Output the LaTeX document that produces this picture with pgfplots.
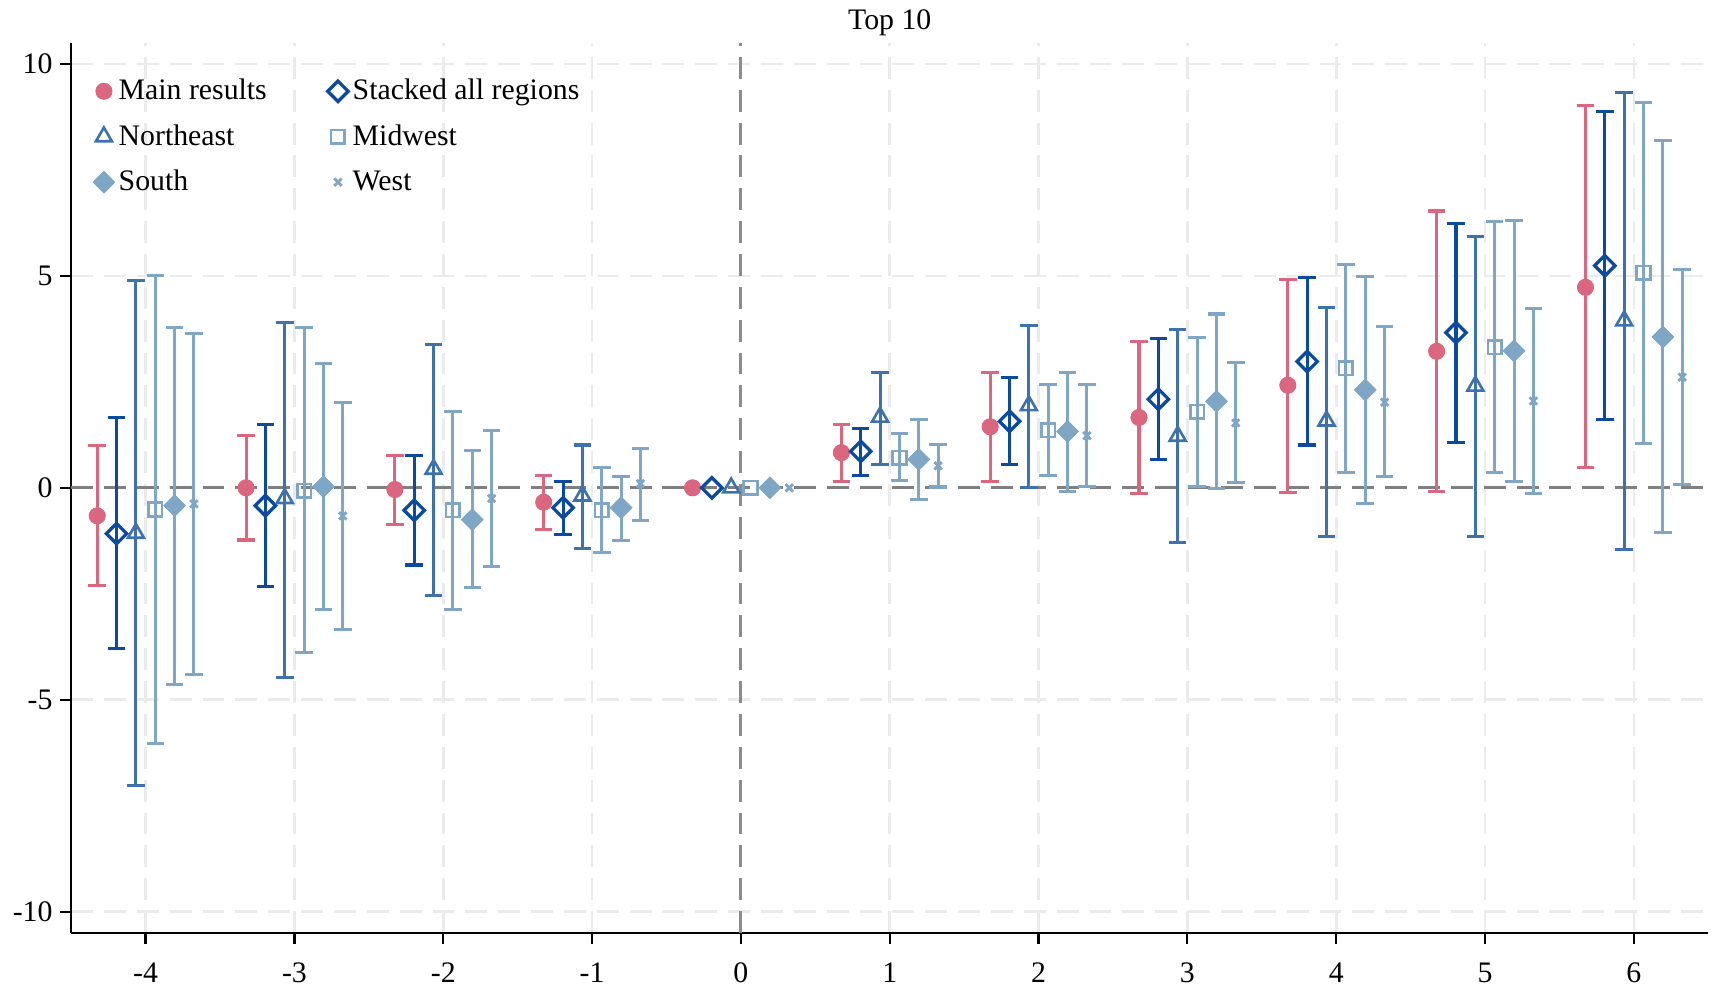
\documentclass[border=0pt]{standalone}
\usepackage{pgfplots}
\pgfplotsset{compat=1.18}
\usepackage{pgfplotstable}
\usepackage{fontspec}
\setmainfont{Liberation Serif}
\definecolor{mainc}{HTML}{DA6680}
\definecolor{stackc}{HTML}{0B4A9E}
\definecolor{nec}{HTML}{3D72AC}
\definecolor{lightc}{HTML}{7FA6C5}
\definecolor{gridc}{HTML}{EBEBEB}
\definecolor{zeroc}{HTML}{7F7F7F}

\pgfplotstableread{
x y lo hi
-4 -0.66 -2.31 1.00
-3 0.00 -1.23 1.23
-2 -0.04 -0.86 0.77
-1 -0.34 -0.98 0.30
1 0.83 0.15 1.50
2 1.44 0.15 2.73
3 1.66 -0.14 3.45
4 2.42 -0.10 4.92
5 3.22 -0.08 6.53
6 4.73 0.47 9.01
}\mainres
\pgfplotstableread{
x y lo hi
-4 -1.08 -3.79 1.65
-3 -0.42 -2.33 1.50
-2 -0.53 -1.82 0.76
-1 -0.47 -1.10 0.14
1 0.86 0.29 1.40
2 1.57 0.54 2.60
3 2.09 0.67 3.53
4 2.98 1.01 4.97
5 3.66 1.08 6.23
6 5.24 1.61 8.87
}\stacked
\pgfplotstableread{
x y lo hi
-4 -1.07 -7.02 4.88
-3 -0.25 -4.48 3.91
-2 0.44 -2.54 3.37
-1 -0.19 -1.44 1.01
1 1.67 0.54 2.72
2 1.94 0.00 3.83
3 1.22 -1.29 3.73
4 1.58 -1.15 4.26
5 2.40 -1.15 5.92
6 3.94 -1.46 9.32
}\northeast
\pgfplotstableread{
x y lo hi
-4 -0.51 -6.03 5.00
-3 -0.07 -3.89 3.78
-2 -0.53 -2.86 1.81
-1 -0.53 -1.53 0.47
1 0.71 0.17 1.28
2 1.36 0.29 2.43
3 1.79 0.03 3.54
4 2.82 0.36 5.27
5 3.32 0.37 6.29
6 5.07 1.04 9.09
}\midwest
\pgfplotstableread{
x y lo hi
-4 -0.42 -4.63 3.79
-3 0.03 -2.87 2.93
-2 -0.75 -2.35 0.88
-1 -0.47 -1.24 0.26
1 0.67 -0.28 1.62
2 1.33 -0.09 2.72
3 2.04 -0.02 4.10
4 2.31 -0.36 4.99
5 3.23 0.15 6.31
6 3.56 -1.06 8.19
}\south
\pgfplotstableread{
x y lo hi
-4 -0.38 -4.40 3.63
-3 -0.66 -3.35 2.01
-2 -0.25 -1.85 1.35
-1 0.10 -0.76 0.93
1 0.52 0.02 1.02
2 1.23 0.04 2.44
3 1.53 0.12 2.95
4 2.02 0.26 3.80
5 2.05 -0.14 4.24
6 2.61 0.08 5.14
}\west
\pgfplotstableread{
x y
0 0
}\zeropt

\pgfplotsset{
  eb/.style={
    only marks,
    error bars/y dir=both,
    error bars/y explicit,
    error bars/error bar style={line width=1.4pt, color=#1, solid},
    error bars/error mark options={rotate=90, mark size=4pt, line width=1.4pt, color=#1, solid},
  },
}
\newcommand{\fs}{\fontsize{13.6}{16}\selectfont}

\begin{document}
\begin{tikzpicture}
\begin{axis}[
  scale only axis,
  width=747.5pt, height=406.5pt,
  xmin=-4.5, xmax=6.5, ymin=-10.5, ymax=10.5,
  xtick={-4,-3,...,6}, ytick={-10,-5,0,5,10},
  axis x line*=bottom, axis y line*=left,
  axis line style={-, line width=1pt, black},
  tick align=outside, major tick length=5pt,
  tick style={black, line width=1pt},
  grid=major,
  major grid style={color=gridc, line width=1.2pt, dash pattern=on 10pt off 5pt},
  /pgf/number format/assume math mode=true,
  tick label style={font=\fs},
  xticklabel style={yshift=-5pt},
  title={Top 10},
  title style={font=\fs, at={(0.5,1)}, anchor=base, yshift=0pt},
  legend columns=2,
  legend cell align=left,
  legend image code/.code={\path[draw=none, fill=none, use as bounding box] (-5.5pt,-5pt) rectangle (5.5pt,5pt); \draw[#1] plot[only marks] coordinates {(0pt,0pt)};},
  legend style={draw=none, fill=none, font=\fs, inner sep=0pt,
    at={(0,1)}, anchor=north west, xshift=9.25pt, yshift=-11.6pt,
    nodes={inner sep=1.25pt, minimum height=20.75pt},
    /tikz/every even column/.append style={column sep=25.75pt}},
  clip=false,
]
\coordinate (O) at (rel axis cs:0,0);
\addplot[forget plot, color=zeroc, line width=1.5pt, dash pattern=on 10pt off 5pt] coordinates {(-4.5,0) (6.5,0)};
\addplot[forget plot, color=zeroc!90, line width=1.4pt, dash pattern=on 10pt off 5pt] coordinates {(0,-10.5) (0,10.5)};

\addplot[eb=mainc, color=mainc, mark=*, mark size=3.7pt]
  table[x expr=\thisrow{x}-0.325, y=y, y error plus expr=\thisrow{hi}-\thisrow{y}, y error minus expr=\thisrow{y}-\thisrow{lo}] {\mainres};
\addlegendentry{Main results}
\addplot[eb=stackc, color=stackc, mark=square, mark size=3.3pt, mark options={rotate=45, line width=1.5pt, solid}]
  table[x expr=\thisrow{x}-0.195, y=y, y error plus expr=\thisrow{hi}-\thisrow{y}, y error minus expr=\thisrow{y}-\thisrow{lo}] {\stacked};
\addlegendentry{Stacked all regions}
\addplot[eb=nec, color=nec, mark=triangle, mark size=4.2pt, mark options={line width=1.2pt, solid}]
  table[x expr=\thisrow{x}-0.065, y=y, y error plus expr=\thisrow{hi}-\thisrow{y}, y error minus expr=\thisrow{y}-\thisrow{lo}] {\northeast};
\addlegendentry{Northeast}
\addplot[eb=lightc, color=lightc, mark=square, mark size=3.1pt, mark options={line width=1.2pt, solid}]
  table[x expr=\thisrow{x}+0.065, y=y, y error plus expr=\thisrow{hi}-\thisrow{y}, y error minus expr=\thisrow{y}-\thisrow{lo}] {\midwest};
\addlegendentry{Midwest}
\addplot[eb=lightc, color=lightc, mark=square*, mark size=3.5pt, mark options={rotate=45, solid}]
  table[x expr=\thisrow{x}+0.195, y=y, y error plus expr=\thisrow{hi}-\thisrow{y}, y error minus expr=\thisrow{y}-\thisrow{lo}] {\south};
\addlegendentry{South}
\addplot[eb=lightc, color=lightc, mark=x, mark size=2.4pt, mark options={line width=1.3pt, solid}]
  table[x expr=\thisrow{x}+0.325, y=y, y error plus expr=\thisrow{hi}-\thisrow{y}, y error minus expr=\thisrow{y}-\thisrow{lo}] {\west};
\addlegendentry{West}

\addplot[forget plot, only marks, color=mainc, mark=*, mark size=3.7pt] table[x expr=\thisrow{x}-0.325, y=y] {\zeropt};
\addplot[forget plot, only marks, color=stackc, mark=square, mark size=3.3pt, mark options={rotate=45, line width=1.5pt}] table[x expr=\thisrow{x}-0.195, y=y] {\zeropt};
\addplot[forget plot, only marks, color=nec, mark=triangle, mark size=4.2pt, mark options={line width=1.2pt}] table[x expr=\thisrow{x}-0.065, y=y] {\zeropt};
\addplot[forget plot, only marks, color=lightc, mark=square, mark size=3.1pt, mark options={line width=1.2pt}] table[x expr=\thisrow{x}+0.065, y=y] {\zeropt};
\addplot[forget plot, only marks, color=lightc, mark=square*, mark size=3.5pt, mark options={rotate=45}] table[x expr=\thisrow{x}+0.195, y=y] {\zeropt};
\addplot[forget plot, only marks, color=lightc, mark=x, mark size=2.4pt, mark options={line width=1.3pt}] table[x expr=\thisrow{x}+0.325, y=y] {\zeropt};
\end{axis}
\pgfresetboundingbox
\path ([xshift=-32.5pt,yshift=-26pt]O) rectangle ([xshift=751.5pt,yshift=426pt]O);
\end{tikzpicture}
\end{document}
